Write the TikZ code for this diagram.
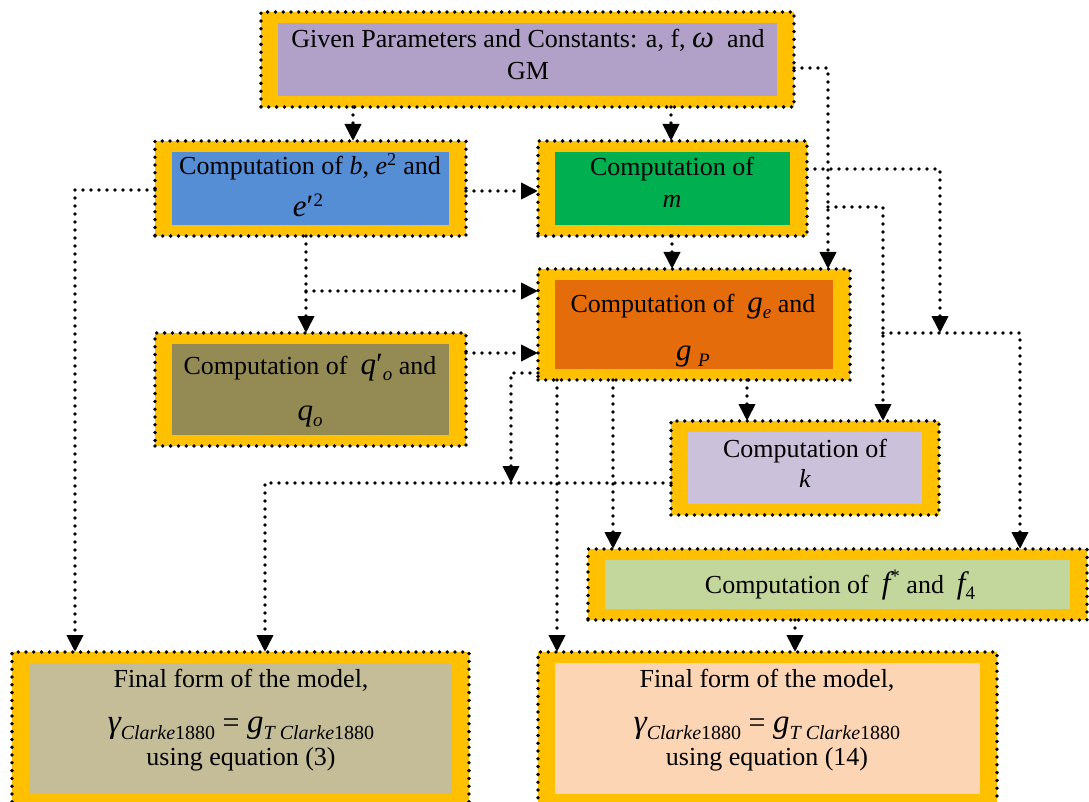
\documentclass[tikz,border=0pt]{standalone}
\usepackage{fontspec}
\setmainfont{Liberation Serif}
\usetikzlibrary{arrows.meta}
\definecolor{gold}{HTML}{FFC000}
\definecolor{topfill}{HTML}{B1A0C7}
\definecolor{bfill}{HTML}{558ED5}
\definecolor{mfill}{HTML}{00B050}
\definecolor{gfill}{HTML}{E46C0A}
\definecolor{qfill}{HTML}{948A54}
\definecolor{kfill}{HTML}{CCC1DA}
\definecolor{ffill}{HTML}{C3D69B}
\definecolor{Lfill}{HTML}{C4BD97}
\definecolor{Rfill}{HTML}{FCD5B5}
\newcommand{\txtsz}{\fontsize{26}{30}\selectfont}
\newcommand{\bigmi}[1]{{\fontsize{31}{31}\selectfont\itshape #1}}
\newcommand{\hugemi}[1]{{\fontsize{33}{33}\selectfont\itshape #1}}
\newcommand{\subsc}[1]{\raisebox{-6pt}{\fontsize{19}{19}\selectfont #1}}
\newcommand{\subsl}[1]{\raisebox{-7pt}{\fontsize{20}{20}\selectfont #1}}
\newcommand{\supsc}[1]{\raisebox{11pt}{\fontsize{19}{19}\selectfont #1}}
\newcommand{\gammaeq}{\hugemi{γ}\subsl{\textit{Clarke}1880}{\fontsize{30}{30}\selectfont\ =\ }\hugemi{g}\subsl{\textit{T Clarke}1880}}
\begin{document}
\begin{tikzpicture}[x=1pt,y=-1pt,
  box/.style={draw=black, fill=gold, line width=3.8pt, dash pattern=on 0pt off 7.8pt,
    line cap=round, rectangle, inner sep=0pt, outer sep=0pt,
    path picture={\fill[#1] ([shift={(17pt,11pt)}]path picture bounding box.south west)
      rectangle ([shift={(-17pt,-11pt)}]path picture bounding box.north east);}},
  conn/.style={line width=3.8pt, dash pattern=on 0pt off 8pt, line cap=round},
  arr/.style={conn, -{Triangle[length=17pt,width=16pt]}},
  t/.style={font=\txtsz, inner sep=0pt, anchor=base}]
\useasboundingbox (0,0) rectangle (1089,802);
\clip (0,0) rectangle (1089,802);
% boxes
\node[box=topfill, minimum width=533pt, minimum height=95pt] (top) at (527.5,59.5) {};
\node[box=bfill, minimum width=311pt, minimum height=95pt] (b) at (310.5,188.5) {};
\node[box=mfill, minimum width=269pt, minimum height=95pt] (m) at (672.5,188.5) {};
\node[box=gfill, minimum width=312pt, minimum height=111pt] (g) at (694,324.5) {};
\node[box=qfill, minimum width=311pt, minimum height=113pt] (q) at (310.5,389.5) {};
\node[box=kfill, minimum width=268pt, minimum height=94pt] (k) at (805,468) {};
\node[box=ffill, minimum width=499pt, minimum height=71pt] (f) at (837.5,584.5) {};
\node[box=Lfill, minimum width=457pt, minimum height=153pt] (L) at (240.5,728.5) {};
\node[box=Rfill, minimum width=459pt, minimum height=153pt] (R) at (767.5,728.5) {};
% texts
\node[t] (topA) at (528,48) {Given Parameters and Constants: a, f,\ \bigmi{ω}\ \ and};
\node[t] (topB) at (528,80) {GM};
\node[t] (bA) at (310,175) {Computation of \textit{b}, \textit{e}\textsuperscript{2} and};
\node[t] (bB) at (308,217) {\bigmi{e}{\fontsize{31}{31}\selectfont′}\raisebox{10pt}{\fontsize{19}{19}\selectfont 2}};
\node[t] (mA) at (672,176) {Computation of};
\node[t] (mB) at (672,208) {\textit{m}};
\node[t] (gA) at (693,312) {Computation of\ \ \bigmi{g}\subsc{\itshape e} and};
\node[t] (gB) at (693,360) {\bigmi{g}\ \subsc{\itshape P}};
\node[t] (qA) at (310,374) {Computation of\ \ \bigmi{q}{\fontsize{31}{31}\selectfont′}\subsc{\itshape o} and};
\node[t] (qB) at (310,420) {\bigmi{q}\subsc{\itshape o}};
\node[t] (kA) at (805,457) {Computation of};
\node[t] (kB) at (805,487) {\textit{k}};
\node[t] (fA) at (840,593) {Computation of\ \ \bigmi{f}\supsc{*} and\ \ \bigmi{f}\subsc{4}};
\node[t] (LA) at (241,687) {Final form of the model,};
\node[t] (LB) at (241,732) {\gammaeq};
\node[t] (LC) at (241,765) {using equation (3)};
\node[t] (RA) at (767,687) {Final form of the model,};
\node[t] (RB) at (767,732) {\gammaeq};
\node[t] (RC) at (767,765) {using equation (14)};
% junction coordinates
\coordinate (j1) at (828,207);
\coordinate (j2) at (940,333);
\coordinate (j3) at (883,333);
\coordinate (j4) at (306,291);
\coordinate (j5) at (511,483);
% connectors
\draw[arr] (top.south -| 353,0) -- (b.north -| 353,0);
\draw[arr] (top.south -| 671,0) -- (m.north -| 671,0);
\draw[arr] (top.east |- 0,68) -- (828,68) -- (g.north -| 828,0);
\draw[arr] (j1) -- (883,207) -- (k.north -| 883,0);
\draw[arr] (m.east |- 0,169) -- (940,169) -- (j2);
\draw[arr] (j3) -- (1020,333) -- (f.north -| 1020,0);
\draw[arr] (b.east |- 0,191) -- (m.west |- 0,191);
\draw[arr] (b.west |- 0,190) -- (75,190) -- (L.north -| 75,0);
\draw[arr] (b.south -| 306,0) -- (q.north -| 306,0);
\draw[arr] (j4) -- (g.west |- 0,291);
\draw[arr] (q.east |- 0,353) -- (g.west |- 0,353);
\draw[arr] (m.south -| 672,0) -- (g.north -| 672,0);
\draw[arr] (g.west |- 0,373) -- (511,373) -- (j5);
\draw[arr] (k.west |- 0,483) -- (265,483) -- (L.north -| 265,0);
\draw[arr] (g.south -| 557,0) -- (R.north -| 557,0);
\draw[arr] (g.south -| 613,0) -- (f.north -| 613,0);
\draw[arr] (g.south -| 747,0) -- (k.north -| 747,0);
\draw[arr] (f.south -| 795,0) -- (R.north -| 795,0);
\end{tikzpicture}
\end{document}
